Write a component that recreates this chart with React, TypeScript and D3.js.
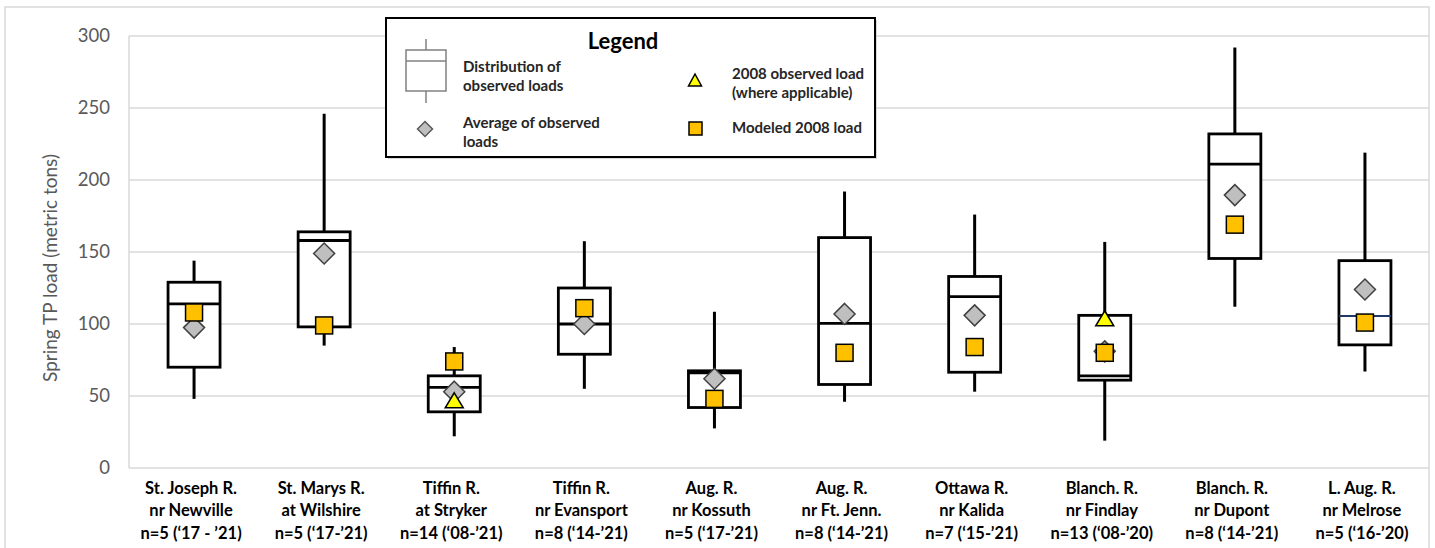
import React from "react";
import * as d3 from "d3";

const siteNames = ["St. Joseph R.", "St. Marys R.", "Tiffin R.", "Tiffin R.", "Aug. R.", "Aug. R.", "Ottawa R.", "Blanch. R.", "Blanch. R.", "L. Aug. R."];
const siteLocations = ["nr Newville", "at Wilshire", "at Stryker", "nr Evansport", "nr Kossuth", "nr Ft. Jenn.", "nr Kalida", "nr Findlay", "nr Dupont", "nr Melrose"];
const sampleInfo = ["n=5 (\u201817 - \u201921)", "n=5 (\u201817-\u201921)", "n=14 (\u201808-\u201921)", "n=8 (\u201814-\u201921)", "n=5 (\u201817-\u201921)", "n=8 (\u201814-\u201921)", "n=7 (\u201815-\u201921)", "n=13 (\u201808-\u201920)", "n=8 (\u201814-\u201921)", "n=5 (\u201816-\u201920)"];

const whiskerLow = [48, 85, 22, 55, 27.5, 46, 53, 19, 112, 67];
const q1 = [70, 98, 39, 79, 42, 58, 66.5, 61, 145.5, 85.5];
const median = [114, 158, 56, 100, 66, 100.5, 119, 64, 211, 105.5];
const q3 = [129, 164, 64, 125, 67.5, 160, 133, 106, 232, 144];
const whiskerHigh = [144, 246, 84, 157.5, 108.5, 192, 176, 157, 292, 219];
const meanObserved = [97.5, 149, 53, 100, 62, 107, 106, 81, 189.5, 124];
const modeled2008 = [108, 99, 74, 111, 48, 80, 84, 80, 169, 101];
const observed2008: (number | null)[] = [null, null, 47, null, null, null, null, 104, null, null];

const yTicks = [0, 50, 100, 150, 200, 250, 300];
const medianColors = ["#000", "#000", "#000", "#000", "#000", "#000", "#000", "#000", "#000", "#1F3864"];

const FONT = "Lato, 'Open Sans', sans-serif";

export default function App() {
  const left = 129, right = 1430, top = 36, bottom = 468;
  const idx = siteNames.map((_, i) => i);
  const x = d3.scaleBand<number>().domain(idx).range([left, right]).paddingInner(0).paddingOuter(0);
  const y = d3.scaleLinear().domain([0, 300]).range([bottom, top]);
  const boxW = 52;
  const diamond = (cx: number, cy: number, r: number) => `M${cx},${cy - r}L${cx + r},${cy}L${cx},${cy + r}L${cx - r},${cy}Z`;
  const tri = (cx: number, cy: number, w: number, h: number) => `M${cx},${cy - h / 2}L${cx + w / 2},${cy + h / 2}L${cx - w / 2},${cy + h / 2}Z`;

  return (
    <svg width={1435} height={548} style={{ position: "fixed", left: 0, top: 0, display: "block", background: "#fff" }} fontFamily={FONT}>
      <rect x={5} y={7} width={1424} height={545} fill="#fff" stroke="#D9D9D9" strokeWidth={1.5} />
      {yTicks.map((t) => (
        <line key={t} x1={left} x2={1429} y1={y(t)} y2={y(t)} stroke="#D9D9D9" strokeWidth={1.5} />
      ))}
      <line x1={left} x2={left} y1={top} y2={bottom} stroke="#D9D9D9" strokeWidth={1.5} />
      {yTicks.map((t) => (
        <text key={t} x={110} y={y(t)} dy="0.35em" textAnchor="end" fontSize={18.5} fill="#595959">{t}</text>
      ))}
      <text transform={`translate(50,${(top + bottom) / 2 + 16}) rotate(-90)`} textAnchor="middle" fontSize={19} fill="#595959" dy="0.35em">Spring TP load (metric tons)</text>

      {idx.map((i) => {
        const cx = x(i)! + x.bandwidth() / 2;
        return (
          <g key={i}>
            <line x1={cx} x2={cx} y1={y(q3[i])} y2={y(whiskerHigh[i])} stroke="#000" strokeWidth={3} />
            <line x1={cx} x2={cx} y1={y(q1[i])} y2={y(whiskerLow[i])} stroke="#000" strokeWidth={3} />
            <rect x={cx - boxW / 2} y={y(q3[i])} width={boxW} height={y(q1[i]) - y(q3[i])} fill="#fff" stroke="#000" strokeWidth={2.8} />
            <line x1={cx - boxW / 2} x2={cx + boxW / 2} y1={y(median[i])} y2={y(median[i])} stroke={medianColors[i]} strokeWidth={i === 9 ? 2 : 2.8} />
          </g>
        );
      })}
      {idx.map((i) => {
        const cx = x(i)! + x.bandwidth() / 2;
        return <path key={i} d={diamond(cx, y(meanObserved[i]), 10.5)} fill="#BFBFBF" stroke="#404040" strokeWidth={1.5} />;
      })}
      {idx.map((i) => {
        const cx = x(i)! + x.bandwidth() / 2;
        return <rect key={i} x={cx - 8.5} y={y(modeled2008[i]) - 8.5} width={17} height={17} fill="#FFC000" stroke="#000" strokeWidth={1.5} />;
      })}
      {idx.map((i) => {
        const v = observed2008[i];
        if (v == null) return null;
        const cx = x(i)! + x.bandwidth() / 2;
        return <path key={i} d={tri(cx, y(v), 18, 15)} fill="#FFFF00" stroke="#000" strokeWidth={1.5} />;
      })}

      {idx.map((i) => {
        const cx = x(i)! + x.bandwidth() / 2 - 3;
        return (
          <text key={i} x={cx} textAnchor="middle" fontWeight="bold" fontSize={16.5} fill="#000">
            <tspan x={cx} y={488} dy="0.35em">{siteNames[i]}</tspan>
            <tspan x={cx} y={510.5} dy="0.35em">{siteLocations[i]}</tspan>
            <tspan x={cx} y={533} dy="0.35em">{sampleInfo[i]}</tspan>
          </text>
        );
      })}

      <g>
        <rect x={388} y={20} width={489} height={139} fill="#BFBFBF" opacity={0.6} />
        <rect x={386} y={18} width={489} height={139} fill="#fff" stroke="#000" strokeWidth={2} />
        <text x={623} y={41} dy="0.35em" textAnchor="middle" fontWeight="bold" fontSize={22} fill="#000">Legend</text>
        <line x1={426} x2={426} y1={39} y2={50} stroke="#808080" strokeWidth={1.5} />
        <line x1={426} x2={426} y1={91} y2={103} stroke="#808080" strokeWidth={1.5} />
        <rect x={406} y={50} width={40} height={41} fill="#fff" stroke="#808080" strokeWidth={1.5} />
        <line x1={406} x2={446} y1={61} y2={61} stroke="#808080" strokeWidth={1.5} />
        <text x={463} fontWeight="bold" fontSize={15} fill="#262626">
          <tspan x={463} y={67} dy="0.35em">Distribution of</tspan>
          <tspan x={463} y={86} dy="0.35em">observed loads</tspan>
        </text>
        <path d={diamond(425, 129, 7.5)} fill="#BFBFBF" stroke="#595959" strokeWidth={1.5} />
        <text x={463} fontWeight="bold" fontSize={15} fill="#262626">
          <tspan x={463} y={123} dy="0.35em">Average of observed</tspan>
          <tspan x={463} y={142} dy="0.35em">loads</tspan>
        </text>
        <path d={tri(695, 80, 13, 12)} fill="#FFFF00" stroke="#000" strokeWidth={1.5} />
        <text x={732} fontWeight="bold" fontSize={15} fill="#262626">
          <tspan x={732} y={74} dy="0.35em">2008 observed load</tspan>
          <tspan x={732} y={93} dy="0.35em">(where applicable)</tspan>
        </text>
        <rect x={689} y={122} width={13} height={13} fill="#FFC000" stroke="#000" strokeWidth={1.5} />
        <text x={732} y={128} dy="0.35em" fontWeight="bold" fontSize={15} fill="#262626">Modeled 2008 load</text>
      </g>
    </svg>
  );
}
